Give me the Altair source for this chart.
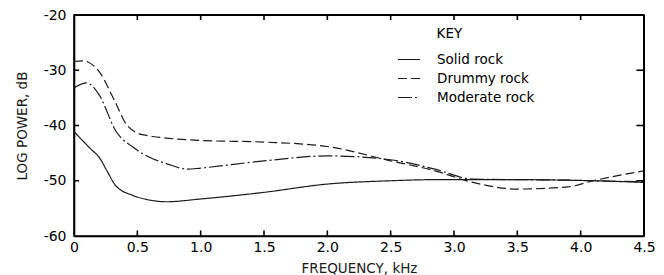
import altair as alt
import pandas as pd

# ---- data ----
solid_f = [0, 0.13, 0.2, 0.26, 0.33, 0.47, 0.6, 0.73, 1.0, 1.5, 2.0, 2.5, 2.85, 3.15, 3.5, 3.9, 4.1, 4.5]
solid_db = [-41.1, -44.2, -45.8, -48.2, -50.9, -52.7, -53.5, -53.8, -53.3, -52.1, -50.6, -50.0, -49.8, -49.8, -49.8, -49.9, -50.0, -50.3]

drummy_f = [0, 0.07, 0.2, 0.32, 0.42, 0.55, 1.0, 1.5, 2.0, 2.5, 2.85, 3.15, 3.5, 3.9, 4.1, 4.5]
drummy_db = [-28.4, -28.3, -30.3, -35.5, -40.0, -41.7, -42.7, -43.0, -43.8, -46.4, -48.2, -50.3, -51.5, -51.1, -50.0, -48.2]

moderate_f = [0, 0.1, 0.2, 0.33, 0.47, 0.6, 0.73, 0.9, 1.0, 1.5, 2.0, 2.5, 2.85, 3.15, 3.5, 3.9, 4.1, 4.5]
moderate_db = [-33.2, -32.3, -34.5, -41.0, -44.0, -45.8, -46.9, -47.9, -47.7, -46.4, -45.5, -46.2, -47.9, -49.7, -49.8, -49.9, -50.0, -50.2]

series_names = ["Solid rock", "Drummy rock", "Moderate rock"]
x_labels = [0, 0.5, 1.0, 1.5, 2.0, 2.5, 3.0, 3.5, 4.0, 4.5]
y_labels = [-60, -50, -40, -30, -20]
x_ticks = [0.5, 1.0, 1.5, 2.0, 2.5, 3.0, 3.5, 4.0]
y_ticks = [-30, -40, -50]

rows = []
for name, fs, vs in zip(series_names, [solid_f, drummy_f, moderate_f], [solid_db, drummy_db, moderate_db]):
    for f, v in zip(fs, vs):
        rows.append({"series": name, "freq": f, "db": v})
df = pd.DataFrame(rows)

FONT = "DejaVu Sans"
INK = "#1a1a1a"
xscale = alt.Scale(domain=[0, 4.5], nice=False, zero=False)
yscale = alt.Scale(domain=[-60, -20], nice=False, zero=False)

lines = alt.Chart(df).mark_line(interpolate="monotone", color=INK, strokeWidth=1.2).encode(
    x=alt.X("freq:Q", scale=xscale,
            axis=alt.Axis(title="FREQUENCY, kHz", values=x_labels,
                          labelExpr="datum.value == 0 ? '0' : format(datum.value, '.1f')",
                          ticks=False, domain=True, domainColor="black", domainWidth=1.6,
                          grid=False, labelPadding=4,
                          labelFontSize=14, titleFontSize=13.5, titlePadding=7, labelFlush=False,
                          labelFont=FONT, titleFont=FONT, labelColor="black", titleColor=INK,
                          titleFontWeight="normal")),
    y=alt.Y("db:Q", scale=yscale,
            axis=alt.Axis(title="LOG POWER, dB", values=y_labels,
                          labelExpr="replace(format(datum.value, 'd'), '\u2212', '-')",
                          ticks=False, domain=True, domainColor="black", domainWidth=1.6,
                          grid=False, labelPadding=8,
                          labelFontSize=14, titleFontSize=13.5, titlePadding=14,
                          labelFont=FONT, titleFont=FONT, labelColor="black", titleColor=INK,
                          titleFontWeight="normal")),
    strokeDash=alt.StrokeDash("series:N",
        scale=alt.Scale(domain=series_names, range=[[1, 0], [9, 4], [14, 3, 2, 3]]),
        legend=alt.Legend(title="\u2800" * 4 + "KEY", orient="none", legendX=323, legendY=12,
                          symbolType="stroke", symbolSize=484, symbolStrokeWidth=1.2,
                          symbolStrokeColor=INK, labelFontSize=13.5, titleFontSize=13.5,
                          titleFontWeight="normal", labelOffset=16, rowPadding=0,
                          titlePadding=7, labelColor="black", titleColor="black",
                          labelFont=FONT, titleFont=FONT, labelLimit=300)),
)

xt = pd.DataFrame({"v": x_ticks})
yt = pd.DataFrame({"v": y_ticks})

bottom_ticks = alt.Chart(xt).mark_rule(stroke="black", strokeWidth=1.6).encode(
    x=alt.X("v:Q", scale=xscale), y=alt.datum(-60), y2=alt.datum(-59.0))
top_ticks = alt.Chart(xt).mark_rule(stroke="black", strokeWidth=1.6).encode(
    x=alt.X("v:Q", scale=xscale), y=alt.datum(-20), y2=alt.datum(-20.9))
left_ticks = alt.Chart(yt).mark_rule(stroke="black", strokeWidth=1.6).encode(
    y=alt.Y("v:Q", scale=yscale), x=alt.datum(0), x2=alt.datum(0.04))
right_ticks = alt.Chart(yt).mark_rule(stroke="black", strokeWidth=1.6).encode(
    y=alt.Y("v:Q", scale=yscale), x=alt.datum(4.5), x2=alt.datum(4.44))

frame_top = alt.Chart(xt).mark_rule(stroke="black", strokeWidth=1.8).encode(
    x=alt.datum(0), x2=alt.datum(4.5), y=alt.datum(-20))
frame_right = alt.Chart(yt).mark_rule(stroke="black", strokeWidth=1.8).encode(
    y=alt.datum(-60), y2=alt.datum(-20), x=alt.datum(4.5))

chart = alt.layer(lines, bottom_ticks, top_ticks, left_ticks, right_ticks,
                  frame_top, frame_right).properties(
    width=570, height=221,
    autosize=alt.AutoSizeParams(type="none"),
    padding={"left": 66, "top": 7, "right": 12, "bottom": 39},
    background="white",
).configure_view(stroke="black", strokeWidth=1.6)

chart.save("out.html", embed_options={"renderer": "svg", "actions": False})
